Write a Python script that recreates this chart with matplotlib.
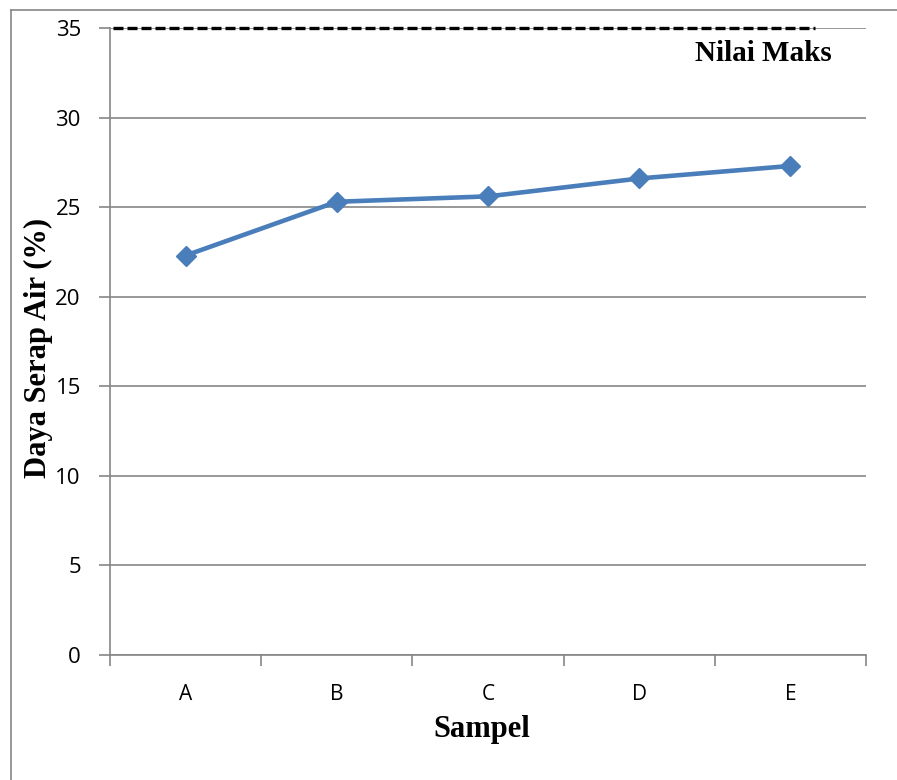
import matplotlib
matplotlib.use("Agg")
import matplotlib.pyplot as plt
from matplotlib.lines import Line2D

categories = ["A", "B", "C", "D", "E"]
values = [22.3, 25.3, 25.6, 26.6, 27.3]
max_value = 35
max_label = "Nilai Maks"
y_ticks = [0, 5, 10, 15, 20, 25, 30, 35]

fig = plt.figure(figsize=(8.97, 7.80), dpi=100)
ax = fig.add_axes([110/897, 1-655/780, (866-110)/897, (655-28)/780])

grid_c = "#868686"
x = list(range(len(categories)))
ax.set_xlim(-0.5, len(categories) - 0.5)
ax.set_ylim(0, 35)
ax.set_yticks(y_ticks)
for t in y_ticks:
    ax.axhline(t, color=grid_c, lw=1.2, zorder=1)

ax.plot(x, values, color="#4A7EBB", lw=3.3, marker="D", markersize=10.5,
        markeredgecolor="#4A7EBB", zorder=3)

# max value dashed line
ax.plot([-0.48, 4.16], [max_value, max_value], color="black", lw=2.4,
        ls=(0, (3.0, 1.2)), zorder=4, clip_on=False)
ax.text(3.82, 33.6, max_label, fontsize=21, fontweight="bold",
        family="Liberation Serif", ha="center", va="center")

for s in ["top", "right"]:
    ax.spines[s].set_visible(False)
for s in ["left", "bottom"]:
    ax.spines[s].set_color(grid_c)
    ax.spines[s].set_linewidth(1.2)

ax.set_xticks([i - 0.5 for i in range(len(categories) + 1)])
ax.set_xticklabels([])
ax.set_xticks(x, minor=True)
ax.set_xticklabels(categories, minor=True, fontsize=15, family="Open Sans")
ax.tick_params(axis="x", which="major", length=8, color=grid_c, width=1.2, direction="out")
ax.tick_params(axis="x", which="minor", length=0, pad=21)
ax.tick_params(axis="y", length=8, color=grid_c, width=1.2, direction="out",
               labelsize=16, pad=13)
for lab in ax.get_yticklabels():
    lab.set_family("Open Sans")

fig.text(482/897, 1-730/780, "Sampel", fontsize=22, fontweight="bold",
         family="Liberation Serif", ha="center", va="center")
fig.text(38/897, 1-348/780, "Daya Serap Air (%)", fontsize=22, fontweight="bold",
         family="Liberation Serif", ha="center", va="center", rotation=90)

# figure border (left and top visible)
fig.add_artist(Line2D([11/897, 11/897], [0, 1-10/780], transform=fig.transFigure, color=grid_c, lw=1.2))
fig.add_artist(Line2D([11/897, 1], [1-10/780, 1-10/780], transform=fig.transFigure, color=grid_c, lw=1.2))

fig.savefig("out.png", dpi=100)
